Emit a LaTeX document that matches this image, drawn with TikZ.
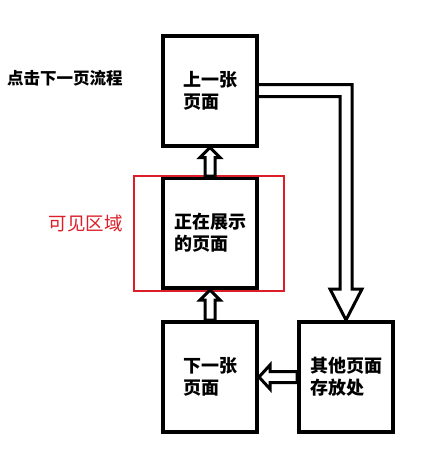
\documentclass[tikz,border=0pt]{standalone}
\usepackage{fontspec}
\usepackage{xcolor}
\newfontfamily\cjk{Noto Sans CJK SC}
\usetikzlibrary{calc}

\begin{document}
\begin{tikzpicture}[x=1pt,y=-1pt,
  pagebox/.style={draw,line width=4,minimum width=94,minimum height=110,align=left,
    font=\cjk\bfseries\fontsize{18}{22}\selectfont},
  hollow/.style={draw,line width=3,line join=miter}]
\definecolor{areared}{HTML}{DC1E28}
\useasboundingbox (0,0) rectangle (438,455);
\node [anchor=west,inner sep=0,font=\cjk\bfseries\fontsize{16.5}{20}\selectfont] (title) at (7,78) {点击下一页流程};
\node [pagebox] (prev) at (210,90.5) {上一张\\页面};
\node [pagebox] (cur) at (210,233) {正在展示\\的页面};
\node [pagebox] (next) at (210,377) {下一张\\页面};
\node [pagebox] (store) at (346,377) {其他页面\\存放处};
\node [draw=areared,line width=2,minimum width=150,minimum height=115] (view) at (208.5,233) {};
\node [anchor=east,text=areared,font=\cjk\fontsize{18.5}{22}\selectfont] (viewlabel) at ($(view.west)+(-6,-10)$) {可见区域};
  \foreach \from/\to in {cur/prev,next/cur}
  {  \draw [hollow] (\to.south) -- ++(10,10) -- ++(-5,0) -- ($(\from.north)+(5,0)$) -- ($(\from.north)+(-5,0)$)
       -- ($(\to.south)+(-5,10)$) -- ++(-5,0) -- cycle;}
\draw [hollow] (next.east) -- ++(11,-12) -- ++(0,6.5) -- ($(store.west)+(0,-5.5)$) -- ($(store.west)+(0,5.5)$)
  -- ($(next.east)+(11,5.5)$) -- ++(0,6.5) -- cycle;
\draw [hollow] ($(prev.east)+(0,-6)$) -| ($(store.north)+(6,-31)$) -- ++(10,0) -- (store.north)
  -- ++(-16,-31) -- ++(10,0) |- ($(prev.east)+(0,6)$);
\end{tikzpicture}
\end{document}
